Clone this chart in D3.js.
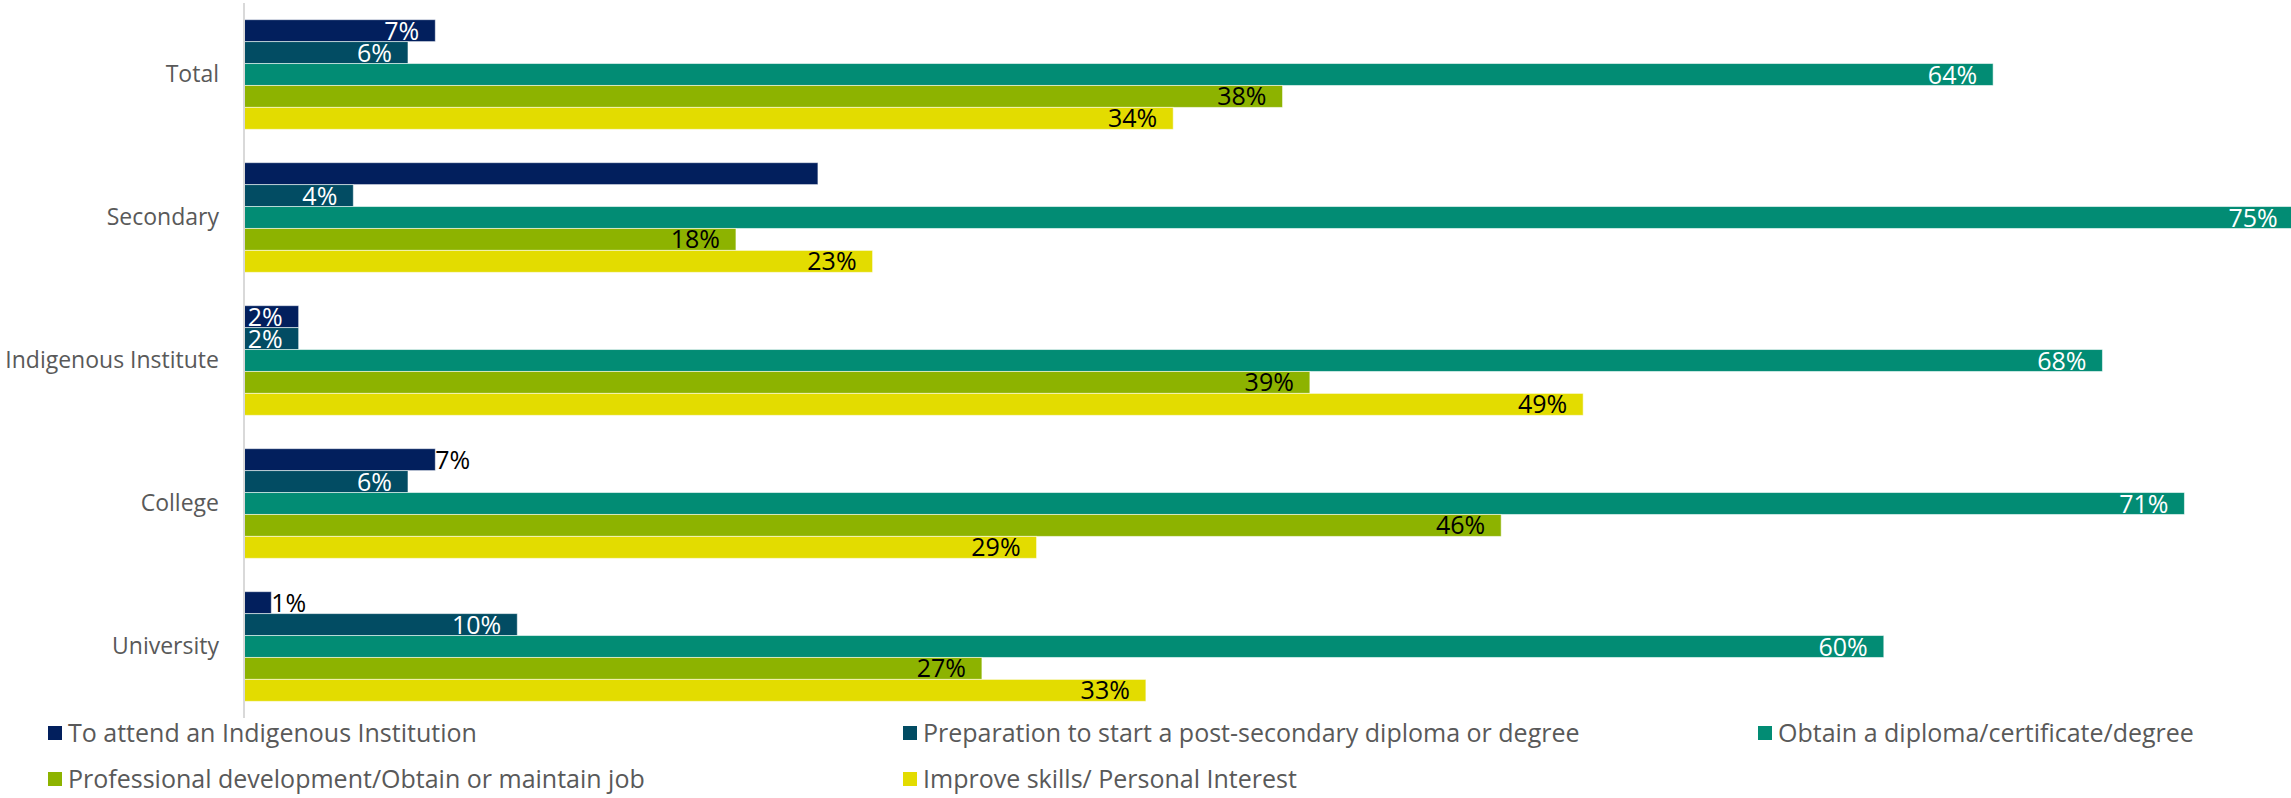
<!DOCTYPE html>
<html>
<head>
<meta charset="utf-8">
<script src="https://cdn.jsdelivr.net/npm/d3@7"></script>
<style>
  html, body { margin: 0; padding: 0; background: #fff; }
  svg { display: block; }
  text { font-family: "Open Sans", "DejaVu Sans", sans-serif; }
</style>
</head>
<body>
<svg id="chart" width="2291" height="798"></svg>
<script>
// ---------- data ----------
const categories = ["Total", "Secondary", "Indigenous Institute", "College", "University"];
const seriesNames = [
  "To attend an Indigenous Institution",
  "Preparation to start a post-secondary diploma or degree",
  "Obtain a diploma/certificate/degree",
  "Professional development/Obtain or maintain job",
  "Improve skills/ Personal Interest"
];
const attendIndigenous = [7, 21, 2, 7, 1];
const preparation      = [6, 4, 2, 6, 10];
const obtainDiploma    = [64, 75, 68, 71, 60];
const professionalDev  = [38, 18, 39, 46, 27];
const improveSkills    = [34, 23, 49, 29, 33];
const seriesValues = [attendIndigenous, preparation, obtainDiploma, professionalDev, improveSkills];
// data labels of the first series as shown in the picture (null = no label shown)
const attendLabels = ["7%", null, "2%", "7%", "1%"];
// labels of the first series drawn outside the bar end
const outsideLabels = ["College", "University"];

// ---------- styles ----------
const colors = ["#021F5D", "#024C63", "#028C74", "#8DB300", "#E3DC00"];
const labelColors = ["#ffffff", "#ffffff", "#ffffff", "#000000", "#000000"];

const svg = d3.select("#chart");
const W = 2291, H = 798;

const x = d3.scaleLinear().domain([0, 80]).range([244, 244 + 80 * 27.33]);
const y0 = d3.scaleBand().domain(categories).range([3, 718])
  .paddingInner(0.233).paddingOuter(0.1165);
const y1 = d3.scaleBand().domain(d3.range(seriesNames.length)).range([0, y0.bandwidth()]);

svg.append("defs").append("clipPath").attr("id", "clip")
  .append("rect").attr("x", 0).attr("y", 0).attr("width", W).attr("height", H);

const rows = [];
categories.forEach((c, ci) => {
  seriesValues.forEach((vals, si) => {
    let label = vals[ci] + "%";
    if (si === 0) label = attendLabels[ci];
    rows.push({ cat: c, si, v: vals[ci], label });
  });
});

const g = svg.append("g").attr("clip-path", "url(#clip)");

g.selectAll("rect.bar").data(rows).join("rect")
  .attr("class", "bar")
  .attr("x", x(0))
  .attr("y", d => y0(d.cat) + y1(d.si))
  .attr("width", d => x(d.v) - x(0))
  .attr("height", y1.bandwidth())
  .attr("fill", d => colors[d.si])
  .attr("stroke", "rgba(255,255,255,0.55)")
  .attr("stroke-width", 1);

// category axis
const yAxis = d3.axisLeft(y0).tickSize(0).tickPadding(25);
const ax = svg.append("g").attr("transform", `translate(${x(0)},0)`).call(yAxis);
ax.select(".domain").attr("stroke", "#D9D9D9").attr("stroke-width", 2)
  .attr("d", `M0,3V718`);
ax.selectAll(".tick text")
  .attr("fill", "#595959")
  .style("font-size", "23px")
  .style("font-family", "'Open Sans', sans-serif");

// data labels
const isOutside = d => d.si === 0 && outsideLabels.includes(d.cat);
g.selectAll("text.lbl").data(rows.filter(d => d.label)).join("text")
  .attr("class", "lbl")
  .attr("x", d => isOutside(d) ? x(d.v) : Math.min(x(d.v), W + 3) - 16)
  .attr("y", d => y0(d.cat) + y1(d.si) + y1.bandwidth() / 2)
  .attr("dy", "0.36em")
  .attr("text-anchor", d => isOutside(d) ? "start" : "end")
  .attr("fill", d => isOutside(d) ? "#000000" : labelColors[d.si])
  .style("font-size", "25px")
  .text(d => d.label);

// legend
const legendPos = [
  { col: 0, row: 0 }, { col: 1, row: 0 }, { col: 2, row: 0 },
  { col: 0, row: 1 }, { col: 1, row: 1 }
];
const colX = [48, 903, 1758];
const rowY = [733, 779];
const lg = svg.append("g").selectAll("g").data(seriesNames).join("g")
  .attr("transform", (d, i) => `translate(${colX[legendPos[i].col]},${rowY[legendPos[i].row]})`);
lg.append("rect").attr("x", 0).attr("y", -7).attr("width", 14).attr("height", 14)
  .attr("fill", (d, i) => colors[i]);
lg.append("text").attr("x", 20).attr("y", 0).attr("dy", "0.36em")
  .attr("fill", "#595959").style("font-size", "25px").text(d => d);
</script>
</body>
</html>
